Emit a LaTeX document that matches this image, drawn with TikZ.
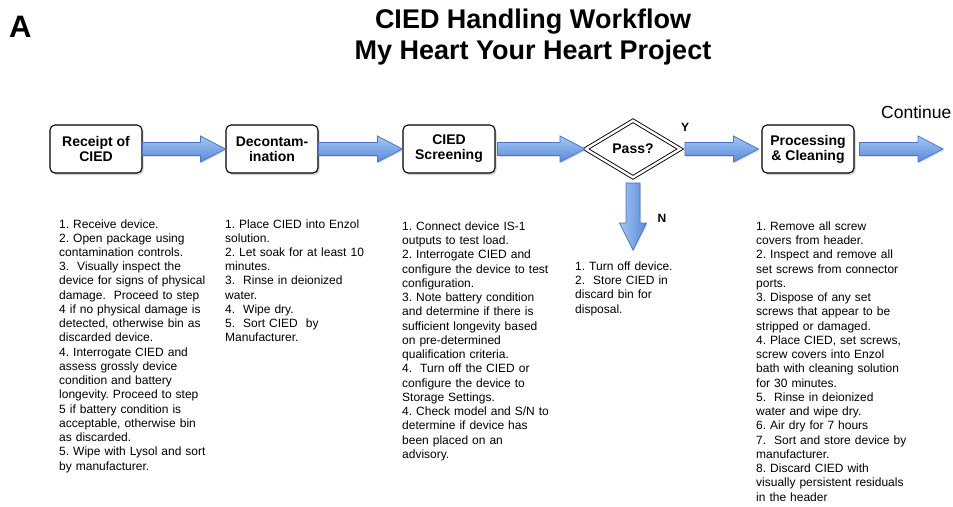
\documentclass[tikz,border=0pt]{standalone}
\usepackage{fontspec}
\setmainfont{Liberation Sans}
\usetikzlibrary{calc,shapes.geometric,shadows}
\definecolor{arrtop}{RGB}{165,198,242}
\definecolor{arrbot}{RGB}{88,138,218}
\definecolor{arrline}{RGB}{72,118,204}
\frenchspacing
\tikzset{
  stepbox/.style={draw=black, line width=1.1pt, rounded corners=5pt, fill=white,
    minimum width=92pt, minimum height=48pt, align=center, inner sep=0pt,
    font=\fontsize{14}{15}\selectfont\bfseries,
    drop shadow={opacity=0.35, shadow xshift=1.5pt, shadow yshift=-2pt}},
  notes/.style={anchor=base west, inner sep=0pt, text width=180pt, align=left,
    font=\fontsize{12}{14.24}\selectfont\frenchspacing},
  blockarrow/.style={draw=arrline, line width=0.8pt, top color=arrtop, bottom color=arrbot,
    line join=miter, drop shadow={opacity=0.25, shadow xshift=1pt, shadow yshift=-1.5pt}},
  blockarrowv/.style={draw=arrline, line width=0.8pt, left color=arrtop, right color=arrbot,
    line join=miter, drop shadow={opacity=0.25, shadow xshift=1pt, shadow yshift=-1.5pt}},
  lbl/.style={inner sep=0pt, font=\fontsize{12}{14}\selectfont\bfseries},
}
\newcommand\flowarrowh[2]{\path[blockarrow] let \p1=#1, \p2=#2 in
  (\x1,\y1-6.5pt) -- (\x2-25pt,\y1-6.5pt) -- (\x2-25pt,\y1-13pt) -- (\x2,\y1)
  -- (\x2-25pt,\y1+13pt) -- (\x2-25pt,\y1+6.5pt) -- (\x1,\y1+6.5pt) -- cycle;}
\newcommand\flowarrowv[2]{\path[blockarrowv] let \p1=#1, \p2=#2 in
  (\x1-7pt,\y1) -- (\x1-7pt,\y2+27pt) -- (\x1-13.5pt,\y2+27pt) -- (\x1,\y2)
  -- (\x1+13.5pt,\y2+27pt) -- (\x1+7pt,\y2+27pt) -- (\x1+7pt,\y1) -- cycle;}
\begin{document}
\begin{tikzpicture}[x=1pt, y=-1pt]
\useasboundingbox (0,0) rectangle (953,506);
\fill[white] (0,0) rectangle (953,506);

% headings
\node[anchor=base west, inner sep=0pt, font=\fontsize{31}{31}\selectfont\bfseries] (lab) at (9,37) {A};
\node[anchor=base, inner sep=0pt, font=\fontsize{27}{30}\selectfont\bfseries] (t1) at (533,28) {CIED Handling Workflow};
\node[anchor=base, inner sep=0pt, font=\fontsize{27}{30}\selectfont\bfseries] (t2) at (533,59) {My Heart Your Heart Project};
\node[anchor=base west, inner sep=0pt, font=\fontsize{17.5}{20}\selectfont] (cont) at (881,118) {Continue};

% boxes
\node[stepbox] (rec) at (96,149) {Receipt of\\CIED};
\node[stepbox] (dec) at (272,149) {Decontam-\\ination};
\node[stepbox] (scr) at (449,149) {CIED\\Screening};
\node[diamond, draw=black, double=white, double distance=2.4pt, line width=0.9pt,
      minimum width=95pt, minimum height=57pt, inner sep=0pt,
      font=\fontsize{14}{15}\selectfont\bfseries] (pass) at (633,149) {Pass?};
\node[stepbox] (proc) at (808,149) {Processing\\\& Cleaning};
\coordinate (contend) at (943,149);
\coordinate (nend) at (633,250);

% arrows
\flowarrowh{(rec.east)}{(dec.west)}
\flowarrowh{(dec.east)}{(scr.west)}
\flowarrowh{($(scr.east)+(2,0)$)}{(pass.west)}
\flowarrowh{($(pass.east)+(4,0)$)}{($(proc.west)+(-3,0)$)}
\flowarrowh{($(proc.east)+(5,0)$)}{(contend)}
\flowarrowv{($(pass.south)+(0,5)$)}{(nend)}

\node[lbl] (ylab) at (685,127) {Y};
\node[lbl] (nlab) at (662,218) {N};

% notes
\node[notes] (n1) at (59,228) {1. Receive device.\\
2. Open package using\\
contamination controls.\\
3.~ Visually inspect the\\
device for signs of physical\\
damage.~ Proceed to step\\
4 if no physical damage is\\
detected, otherwise bin as\\
discarded device.\\
4. Interrogate CIED and\\
assess grossly device\\
condition and battery\\
longevity. Proceed to step\\
5 if battery condition is\\
acceptable, otherwise bin\\
as discarded.\\
5. Wipe with Lysol and sort\\
by manufacturer.};

\node[notes] (n2) at (225,228) {1. Place CIED into Enzol\\
solution.\\
2. Let soak for at least 10\\
minutes.\\
3.~ Rinse in deionized\\
water.\\
4.~ Wipe dry.\\
5.~ Sort CIED~ by\\
Manufacturer.};

\node[notes] (n3) at (402,230.5) {1. Connect device IS-1\\
outputs to test load.\\
2. Interrogate CIED and\\
configure the device to test\\
configuration.\\
3. Note battery condition\\
and determine if there is\\
sufficient longevity based\\
on pre-determined\\
qualification criteria.\\
4.~ Turn off the CIED or\\
configure the device to\\
Storage Settings.\\
4. Check model and S/N to\\
determine if device has\\
been placed on an\\
advisory.};

\node[notes] (n4) at (575,270.5) {1. Turn off device.\\
2.~ Store CIED in\\
discard bin for\\
disposal.};

\node[notes] (n5) at (756,230.5) {1. Remove all screw\\
covers from header.\\
2. Inspect and remove all\\
set screws from connector\\
ports.\\
3. Dispose of any set\\
screws that appear to be\\
stripped or damaged.\\
4. Place CIED, set screws,\\
screw covers into Enzol\\
bath with cleaning solution\\
for 30 minutes.\\
5.~ Rinse in deionized\\
water and wipe dry.\\
6. Air dry for 7 hours\\
7.~ Sort and store device by\\
manufacturer.\\
8. Discard CIED with\\
visually persistent residuals\\
in the header};
\end{tikzpicture}
\end{document}
